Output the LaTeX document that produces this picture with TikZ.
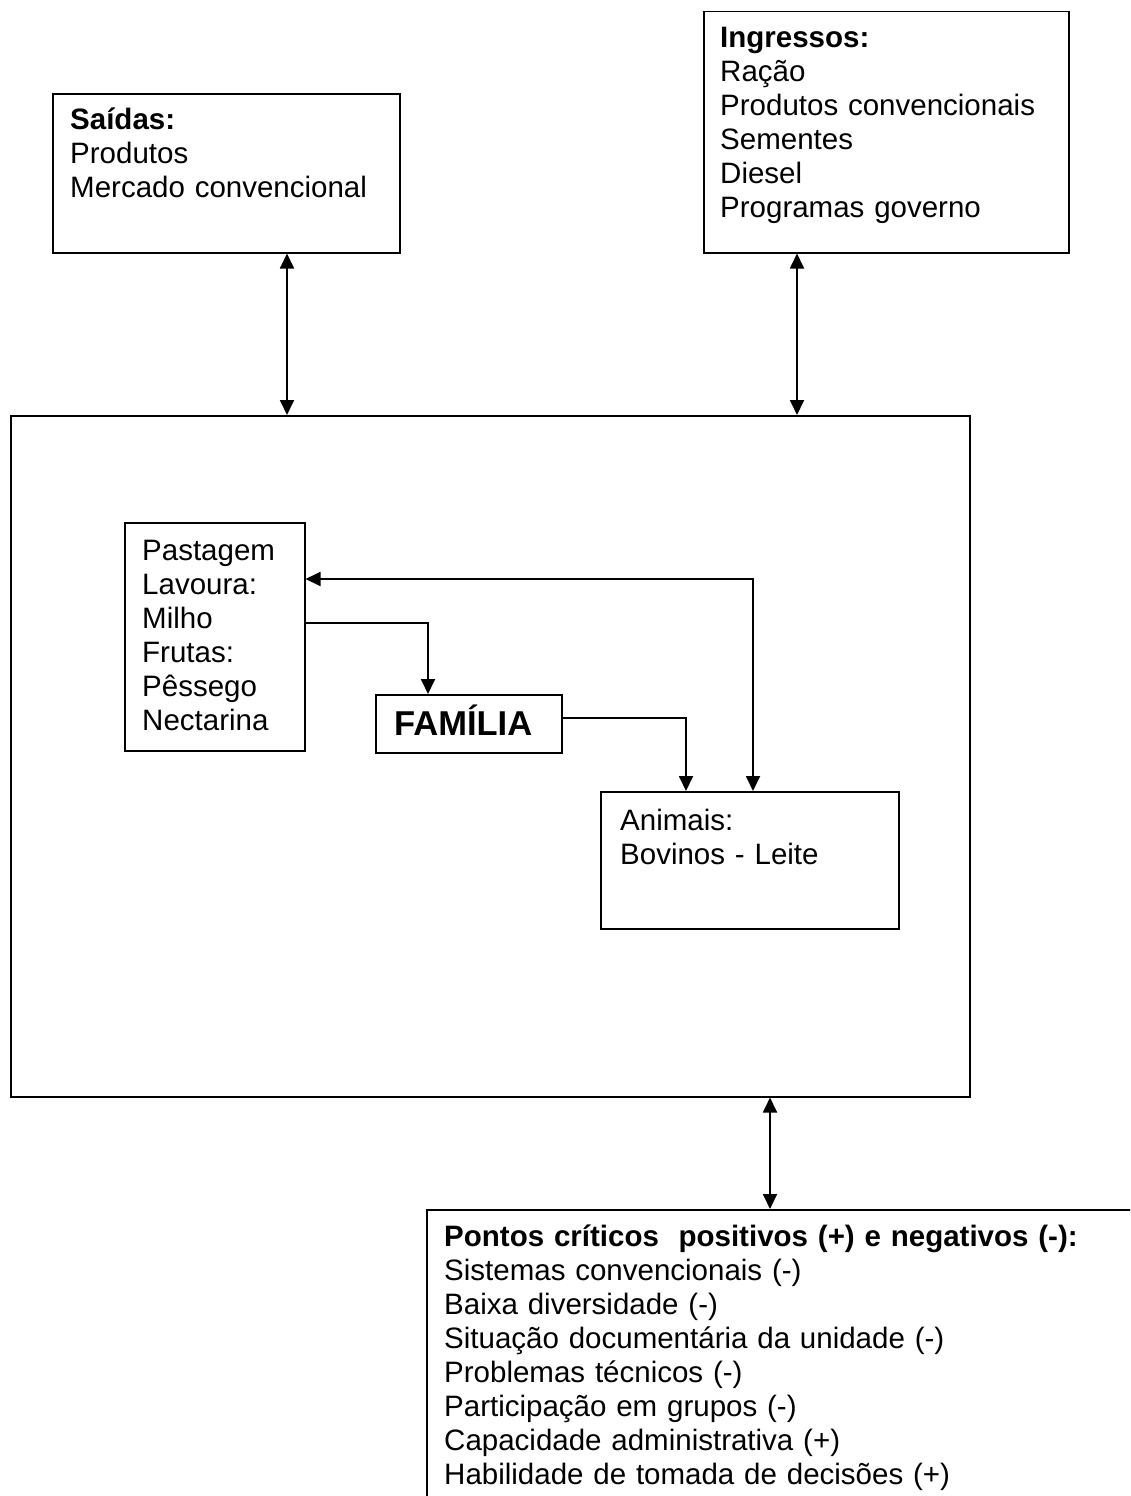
\documentclass[tikz,border=0pt]{standalone}
\usepackage{fontspec}
\setmainfont{Liberation Sans}
\usetikzlibrary{arrows.meta}

\begin{document}
\begin{tikzpicture}[
  x=1pt, y=-1pt,
  box/.style={draw, line width=1.5pt, rectangle, inner sep=0pt, anchor=north west},
  txt/.style={anchor=base west, inner sep=0pt, align=left, text width=#1,
              font=\fontsize{29.5}{34}\selectfont},
  txt/.default=400pt,
  arr/.style={-{Triangle[length=15pt,width=14pt]}, line width=1.8pt},
  dbl/.style={{Triangle[length=15pt,width=14pt]}-{Triangle[length=15pt,width=14pt]}, line width=1.8pt}
]
\useasboundingbox (0,0) rectangle (1130,1496);
\clip (0,0) rectangle (1130,1496);

% boxes
\node[box, minimum width=347pt, minimum height=159pt] (saidas) at (52,93) {};
\node[box, minimum width=365pt, minimum height=241pt] (ingressos) at (703,11) {};
\node[box, minimum width=959pt, minimum height=681pt] (main) at (10,415) {};
\node[box, minimum width=180pt, minimum height=228pt] (pastagem) at (124,522) {};
\node[box, minimum width=186pt, minimum height=58pt] (familia) at (375,694) {};
\node[box, minimum width=298pt, minimum height=137pt] (animais) at (600,791) {};
\node[box, minimum width=800pt, minimum height=400pt] (pontos) at (426,1209) {};

% texts
\node[txt] (saidastxt) at (70,129) {\textbf{Saídas:}\\Produtos\\Mercado convencional};
\node[txt] (ingressostxt) at (720,48) {\textbf{Ingressos:}\\Ração\\Produtos convencionais\\Sementes\\Diesel\\Programas governo};
\node[txt=170pt] (pastagemtxt) at (142,560) {Pastagem\\Lavoura:\\Milho\\Frutas:\\Pêssego\\Nectarina};
\node[anchor=base west, inner sep=0pt, font=\fontsize{34.5}{40}\selectfont\bfseries] (familiatxt) at (394,735) {FAMÍLIA};
\node[txt] (animaistxt) at (620,830) {Animais:\\Bovinos - Leite};
\node[txt=680pt] (pontostxt) at (444,1246) {\textbf{Pontos críticos~~positivos (+) e negativos (-):}\\Sistemas convencionais (-)\\Baixa diversidade (-)\\Situação documentária da unidade (-)\\Problemas técnicos (-)\\Participação em grupos (-)\\Capacidade administrativa (+)\\Habilidade de tomada de decisões (+)};

% connector guide positions
\coordinate (g1) at (287,0);
\coordinate (g2) at (797,0);
\coordinate (g3) at (770,0);
\coordinate (c1) at (428,623);
\coordinate (c2) at (686,718);
\coordinate (c3) at (753,579);

% connectors
\draw[dbl] (saidas.south -| g1) -- (main.north -| g1);
\draw[dbl] (ingressos.south -| g2) -- (main.north -| g2);
\draw[dbl] (main.south -| g3) -- (pontos.north -| g3);
\draw[arr] (pastagem.east |- c1) -| (familia.north -| c1);
\draw[arr] (familia.east |- c2) -| (animais.north -| c2);
\draw[dbl] (pastagem.east |- c3) -| (animais.north -| c3);
\end{tikzpicture}
\end{document}
